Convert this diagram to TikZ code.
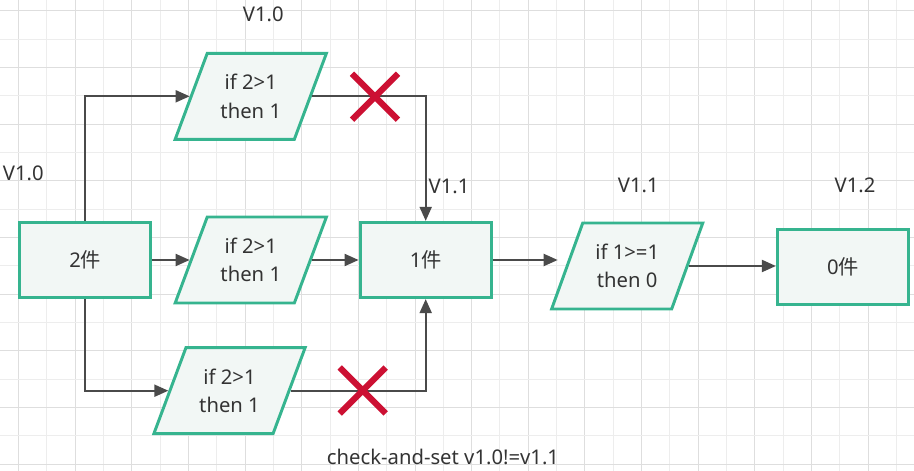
\documentclass[tikz,border=0pt]{standalone}
\usepackage{fontspec}
\setmainfont{Noto Sans}
\newfontfamily\cjk{Noto Sans CJK SC}
\usetikzlibrary{arrows.meta,positioning,shapes.geometric}
\definecolor{boxline}{HTML}{36B48F}
\definecolor{boxfill}{HTML}{F2F7F5}
\definecolor{wire}{HTML}{4A4A4A}
\definecolor{stop}{HTML}{CC1033}
\definecolor{ink}{HTML}{333333}

\begin{document}
\begin{tikzpicture}[x=0.025cm,y=-0.025cm,
  font=\fontsize{14.4}{20}\selectfont,text=ink,
  box/.style={draw=boxline,fill=boxfill,line width=2.1pt,minimum width=3.28cm,minimum height=1.88cm,inner sep=0pt},
  para/.style={trapezium,trapezium left angle=63,trapezium right angle=117,trapezium stretches=true,
    draw=boxline,fill=boxfill,line width=2.1pt,minimum width=3.8cm,minimum height=2.15cm,inner sep=0pt,align=center},
  flow/.style={draw=wire,line width=1.4pt,-{Triangle[length=0.35cm,width=0.3cm]}},
  cross/.style={draw=stop,line width=4.4pt}]
 \useasboundingbox (0,0) rectangle (914,471);
 % background grid
 \foreach \k in {0,...,31}{\pgfmathsetmacro\gx{18.3+28.33*\k}
  \pgfmathtruncatemacro\odd{mod(\k,2)}
  \ifnum\odd=0 \draw[black!13,line width=0.6pt] (\gx,0)--(\gx,471); \else \draw[black!7,line width=0.6pt] (\gx,0)--(\gx,471); \fi}
 \foreach \k in {0,...,16}{\pgfmathsetmacro\gy{10.7+28.33*\k}
  \pgfmathtruncatemacro\odd{mod(\k,2)}
  \ifnum\odd=0 \draw[black!13,line width=0.6pt] (0,\gy)--(914,\gy); \else \draw[black!7,line width=0.6pt] (0,\gy)--(914,\gy); \fi}
 % nodes
 \node[box] (src) at (85.3,260) {2{\cjk 件}};
 \node[para] (p1) at (250.8,96.3) {if 2>1\\then 1};
 \node[para] (p2) at (250.8,260) {if 2>1\\then 1};
 \node[para] (p3) at (229.5,390.7) {if 2>1\\then 1};
 \node[box] (mid) at (425.7,260) {1{\cjk 件}};
 \node[para] (p4) at (627.2,266) {if 1>=1\\then 0};
 \node[box] (out) at (843,266.7) {0{\cjk 件}};
 \coordinate (in4) at (557.7,260);
 % labels
 \node (l1) at (263.3,14) {V1.0};
 \node (l2) at (23.3,173.3) {V1.0};
 \node (l3) at (449,186) {V1.1};
 \node (l4) at (638.3,185.3) {V1.1};
 \node (l5) at (855,185.3) {V1.2};
 \node (cas) at (443,457) {check-and-set v1.0!=v1.1};
 % connectors
 \draw[flow] (src.north) |- (p1.left side);
 \draw[flow] (src.east) -- (p2.left side);
 \draw[flow] (src.south) |- (p3.left side);
 \draw[flow] (p1.right side) -| (mid.north);
 \draw[flow] (p2.right side) -- (mid.west);
 \draw[flow] (p3.right side) -| (mid.south);
 \draw[flow] (mid.east) -- (in4);
 \draw[flow] (p4.right side) -- (p4.right side -| out.west);
 % rejected writes
 \draw[cross] (375,96.7) ++(-23,-23) -- ++(46,46) ++(-46,0) -- ++(46,-46);
 \draw[cross] (362.7,390.5) ++(-23,-23) -- ++(46,46) ++(-46,0) -- ++(46,-46);
\end{tikzpicture}
\end{document}
